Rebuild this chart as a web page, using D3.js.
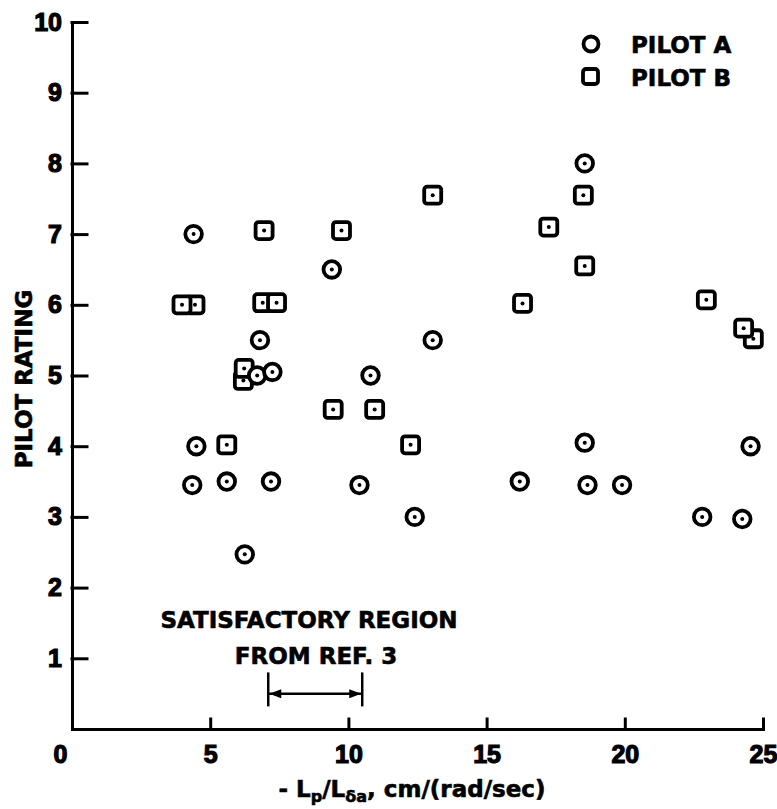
<!DOCTYPE html>
<html>
<head>
<meta charset="utf-8">
<script src="https://cdn.jsdelivr.net/npm/d3@7"></script>
<style>
  body { margin: 0; background: #fff; }
  text { font-family: "DejaVu Sans", sans-serif; font-weight: bold; fill: #000; stroke: #000; stroke-width: 0.6; }
  .axis path, .axis line { stroke: #000; stroke-width: 3; stroke-linecap: square; }
</style>
</head>
<body>
<div id="chart"></div>
<script>
// Pilot A (circles)
const pilotAX = [4.4, 9.4, 6.8, 6.7, 7.25, 13.05, 10.8, 4.5, 4.35, 5.6, 7.2, 10.4, 12.4, 6.25, 18.55, 18.55, 16.2, 18.65, 19.9, 22.8, 24.25, 24.55];
const pilotAY = [7.0, 6.5, 5.5, 5.0, 5.05, 5.5, 5.0, 4.0, 3.45, 3.5, 3.5, 3.45, 3.0, 2.47, 8.0, 4.05, 3.5, 3.45, 3.45, 3.0, 2.97, 4.0];

// Pilot B (squares)
const pilotBX = [4.45, 3.98, 6.95, 9.75, 6.9, 7.4, 6.2, 6.23, 9.45, 10.95, 5.6, 12.25, 13.05, 17.25, 18.5, 18.55, 16.3, 22.95, 24.65, 24.3];
const pilotBY = [6.0, 6.0, 7.05, 7.05, 6.03, 6.03, 4.93, 5.1, 4.52, 4.52, 4.02, 4.02, 7.55, 7.1, 7.55, 6.55, 6.02, 6.07, 5.52, 5.67];

const xTicks = [0, 5, 10, 15, 20, 25];
const yTicks = [1, 2, 3, 4, 5, 6, 7, 8, 9, 10];
const satRegion = [7.1, 10.5];
const legendLabels = ['PILOT A', 'PILOT B'];

const width = 777;
const height = 809;
const margin = {top: 22, right: 14, bottom: 80, left: 72};

const x = d3.scaleLinear().domain([0, 25]).range([margin.left, width - margin.right]);
const y = d3.scaleLinear().domain([0, 10]).range([height - margin.bottom, margin.top]);

const svg = d3.select('#chart').append('svg')
  .attr('width', width)
  .attr('height', height);

// Axes
const xAxisG = svg.append('g')
  .attr('class', 'axis')
  .attr('transform', `translate(0, ${y(0)})`)
  .call(d3.axisBottom(x).tickValues(xTicks).tickSizeInner(-10).tickSizeOuter(0).tickPadding(16));
xAxisG.selectAll('.tick text').filter(d => d === 0).attr('dx', -12);

svg.append('g')
  .attr('class', 'axis')
  .attr('transform', `translate(${x(0)}, 0)`)
  .call(d3.axisLeft(y).tickValues(yTicks).tickSizeInner(-15).tickSizeOuter(0).tickPadding(10));

svg.selectAll('.axis .tick line').attr('stroke-width', 2.5);
svg.selectAll('.axis .tick text')
  .style('font-family', '"Liberation Sans", Arial, sans-serif')
  .style('font-size', '25px')
  .style('font-weight', '700')
  .style('stroke', '#000')
  .style('stroke-width', '1.2px');

// Axis titles
svg.append('text')
  .attr('transform', `translate(32, ${y(4.95)}) rotate(-90)`)
  .attr('text-anchor', 'middle')
  .style('font-size', '23px')
  .text('PILOT RATING');

const xTitle = svg.append('text')
  .attr('x', 412)
  .attr('y', 797)
  .attr('text-anchor', 'middle')
  .style('font-size', '23px');
xTitle.append('tspan').text('- L');
xTitle.append('tspan').attr('dy', 5).style('font-size', '16px').text('p');
xTitle.append('tspan').attr('dy', -5).text('/L');
xTitle.append('tspan').attr('dy', 5).style('font-size', '16px').text('δa');
xTitle.append('tspan').attr('dy', -5).text(', cm/(rad/sec)');

// Satisfactory region
svg.append('text')
  .attr('x', 309)
  .attr('y', 628)
  .attr('text-anchor', 'middle')
  .style('font-size', '23px')
  .text('SATISFACTORY REGION');

svg.append('text')
  .attr('x', 316)
  .attr('y', 664)
  .attr('text-anchor', 'middle')
  .style('font-size', '23px')
  .text('FROM REF. 3');

const bracket = svg.append('g').attr('stroke', '#000').attr('stroke-width', 2.5);
satRegion.forEach(v => {
  bracket.append('line')
    .attr('x1', x(v)).attr('x2', x(v))
    .attr('y1', y(0.8)).attr('y2', y(0.32));
});
bracket.append('line')
  .attr('x1', x(satRegion[0])).attr('x2', x(satRegion[1]))
  .attr('y1', y(0.5)).attr('y2', y(0.5));

const ay = y(0.5);
svg.append('path')
  .attr('d', `M${x(satRegion[0]) + 1},${ay} l12,-4.5 l0,9 Z`)
  .attr('fill', '#000');
svg.append('path')
  .attr('d', `M${x(satRegion[1]) - 1},${ay} l-12,-4.5 l0,9 Z`)
  .attr('fill', '#000');

// Data marks
const pilotB = pilotBX.map((v, i) => ({x: v, y: pilotBY[i]}));
const pilotA = pilotAX.map((v, i) => ({x: v, y: pilotAY[i]}));

const sq = svg.append('g').selectAll('g')
  .data(pilotB)
  .enter().append('g')
  .attr('transform', d => `translate(${x(d.x)}, ${y(d.y)})`);
sq.append('rect')
  .attr('x', -8.5).attr('y', -8.5)
  .attr('width', 17).attr('height', 17)
  .attr('rx', 3)
  .attr('fill', '#fff')
  .attr('stroke', '#000')
  .attr('stroke-width', 3.8);
sq.append('circle').attr('r', 2).attr('fill', '#000');

const ci = svg.append('g').selectAll('g')
  .data(pilotA)
  .enter().append('g')
  .attr('transform', d => `translate(${x(d.x)}, ${y(d.y)})`);
ci.append('circle')
  .attr('r', 8.3)
  .attr('fill', '#fff')
  .attr('stroke', '#000')
  .attr('stroke-width', 3.8);
ci.append('circle').attr('r', 2).attr('fill', '#000');

// Legend
const legend = svg.append('g');
legend.append('circle')
  .attr('cx', 591).attr('cy', 44).attr('r', 7.5)
  .attr('fill', 'none').attr('stroke', '#000').attr('stroke-width', 3.8);
legend.append('rect')
  .attr('x', 583).attr('y', 69).attr('width', 15).attr('height', 15).attr('rx', 3)
  .attr('fill', 'none').attr('stroke', '#000').attr('stroke-width', 3.8);
legend.selectAll('text')
  .data(legendLabels)
  .enter().append('text')
  .attr('x', 631)
  .attr('y', (d, i) => 53 + i * 33)
  .style('font-size', '23px')
  .text(d => d);
</script>
</body>
</html>
